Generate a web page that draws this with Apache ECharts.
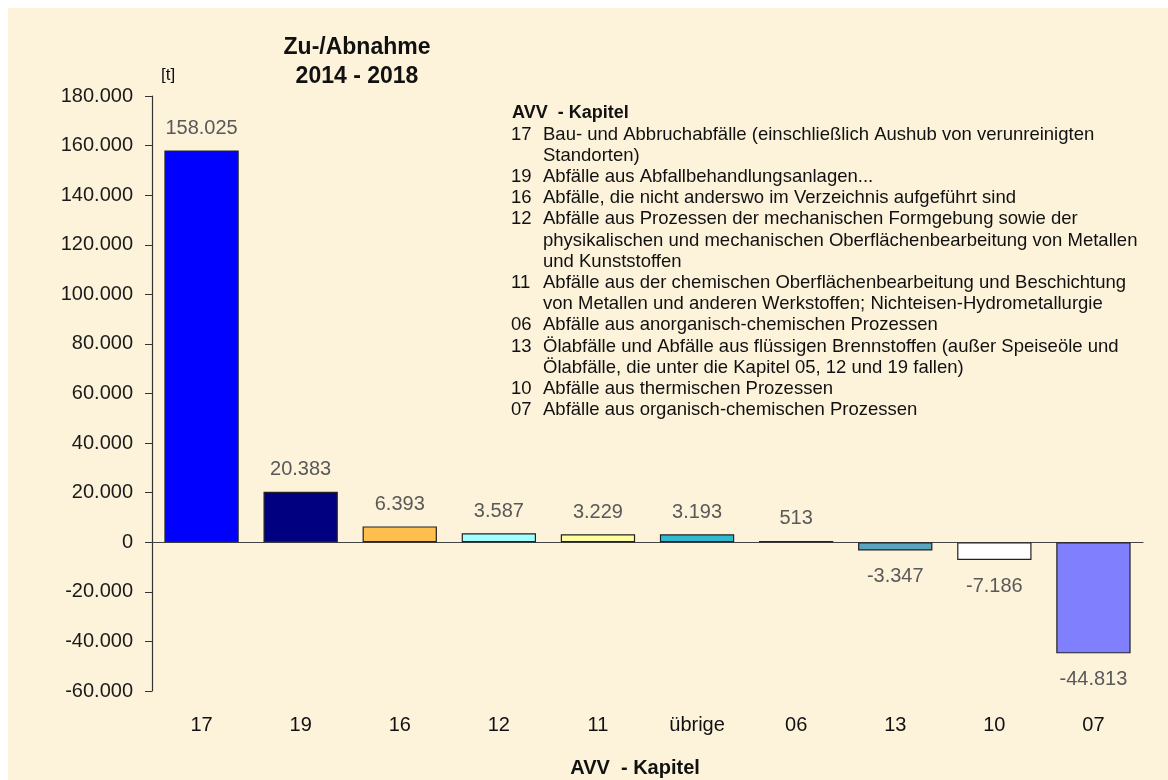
<!DOCTYPE html>
<html>
<head>
<meta charset="utf-8">
<script src="https://cdn.jsdelivr.net/npm/echarts@6/dist/echarts.min.js"></script>
<style>
html,body{margin:0;padding:0;background:#ffffff;}
#chart{width:1168px;height:780px;}
</style>
</head>
<body>
<div id="chart"></div>
<script>
// ---- data ----
const categories = ['17', '19', '16', '12', '11', 'übrige', '06', '13', '10', '07'];
const values = [158025, 20383, 6393, 3587, 3229, 3193, 513, -3347, -7186, -44813];
const yTicks = { min: -60000, max: 180000, interval: 20000 };
const titleLines = ['Zu-/Abnahme', '2014 - 2018'];
const unitLabel = '[t]';
const axisName = 'AVV  - Kapitel';
const legendTitle = 'AVV  - Kapitel';
const legendNums = ['17', '', '19', '16', '12', '', '', '11', '', '06', '13', '', '10', '07'];
const legendTexts = [
  'Bau- und Abbruchabfälle (einschließlich Aushub von verunreinigten',
  'Standorten)',
  'Abfälle aus Abfallbehandlungsanlagen...',
  'Abfälle, die nicht anderswo im Verzeichnis aufgeführt sind',
  'Abfälle aus Prozessen der mechanischen Formgebung sowie der',
  'physikalischen und mechanischen Oberflächenbearbeitung von Metallen',
  'und Kunststoffen',
  'Abfälle aus der chemischen Oberflächenbearbeitung und Beschichtung',
  'von Metallen und anderen Werkstoffen; Nichteisen-Hydrometallurgie',
  'Abfälle aus anorganisch-chemischen Prozessen',
  'Ölabfälle und Abfälle aus flüssigen Brennstoffen (außer Speiseöle und',
  'Ölabfälle, die unter die Kapitel 05, 12 und 19 fallen)',
  'Abfälle aus thermischen Prozessen',
  'Abfälle aus organisch-chemischen Prozessen'
];

// ---- styles ----
const barColors = ['#0000FF', '#000080', '#FFBF4F', '#A0FFFF', '#FFFFA0', '#2EBAD0', '#000000', '#5AA5BE', '#FFFFFF', '#8080FF'];
const FONT = '"Liberation Sans", Arial, sans-serif';

function fmtDE(v) {
  const s = Math.abs(Math.round(v)).toString().replace(/\B(?=(\d{3})+(?!\d))/g, '.');
  return (v < 0 ? '-' : '') + s;
}

const chart = echarts.init(document.getElementById('chart'), null, { renderer: 'canvas' });

const graphics = [
  { type: 'rect', shape: { x: 8, y: 8, width: 1160, height: 772 }, style: { fill: '#FDF3DB' }, z: -10, silent: true },
  { type: 'text', x: 161, y: 75, style: { text: unitLabel, font: '17px ' + FONT, fill: '#111', verticalAlign: 'middle' } },
  { type: 'text', x: 357, y: 48, style: { text: titleLines[0], font: 'bold 23px ' + FONT, fill: '#111', align: 'center', verticalAlign: 'middle' } },
  { type: 'text', x: 357, y: 77, style: { text: titleLines[1], font: 'bold 23px ' + FONT, fill: '#111', align: 'center', verticalAlign: 'middle' } },
  { type: 'text', x: 512, y: 113, style: { text: legendTitle, font: 'bold 18px ' + FONT, fill: '#111', verticalAlign: 'middle' } }
];
const lx0 = 511, lx1 = 543, ly0 = 134.5, lstep = 21.2;
legendTexts.forEach((t, i) => {
  const y = ly0 + i * lstep;
  if (legendNums[i]) {
    graphics.push({ type: 'text', x: lx0, y: y, style: { text: legendNums[i], font: '18.5px ' + FONT, fill: '#111', verticalAlign: 'middle' } });
  }
  graphics.push({ type: 'text', x: lx1, y: y, style: { text: t, font: '18.5px ' + FONT, fill: '#111', verticalAlign: 'middle' } });
});

const option = {
  backgroundColor: 'transparent',
  animation: false,
  grid: { left: 152, right: 25, top: 96, bottom: 89, containLabel: false, outerBoundsMode: 'none' },
  xAxis: [
    {
      type: 'category', data: categories,
      axisLine: { show: true, onZero: true, lineStyle: { color: '#444', width: 1.2 } },
      axisTick: { show: false }, axisLabel: { show: false }, splitLine: { show: false }
    },
    {
      type: 'category', data: categories, position: 'bottom',
      axisLine: { show: false, onZero: false }, axisTick: { show: false },
      axisLabel: { show: true, margin: 24, fontFamily: FONT, fontSize: 20, color: '#111' },
      name: axisName, nameLocation: 'middle', nameGap: 67,
      nameTextStyle: { fontFamily: FONT, fontSize: 20, fontWeight: 'bold', color: '#111', padding: [0, 25, 0, 0] }
    }
  ],
  yAxis: {
    type: 'value', min: yTicks.min, max: yTicks.max, interval: yTicks.interval,
    axisLine: { show: true, lineStyle: { color: '#333', width: 1.2 } },
    axisTick: { show: true, inside: false, length: 7, lineStyle: { color: '#333' } },
    axisLabel: { margin: 19, fontFamily: FONT, fontSize: 20, color: '#1a1a1a', formatter: fmtDE },
    splitLine: { show: false }
  },
  series: [{
    type: 'bar', xAxisIndex: 0,
    barWidth: '75%',
    data: values.map((v, i) => ({
      value: v,
      itemStyle: { color: barColors[i], borderColor: '#222', borderWidth: 1.2 },
      label: { position: v >= 0 ? 'top' : 'bottom', distance: v >= 0 ? 12 : 16 }
    })),
    label: {
      show: true, fontFamily: FONT, fontSize: 20, color: '#595959',
      formatter: p => fmtDE(p.value)
    }
  }],
  graphic: graphics
};
chart.setOption(option);
</script>
</body>
</html>
